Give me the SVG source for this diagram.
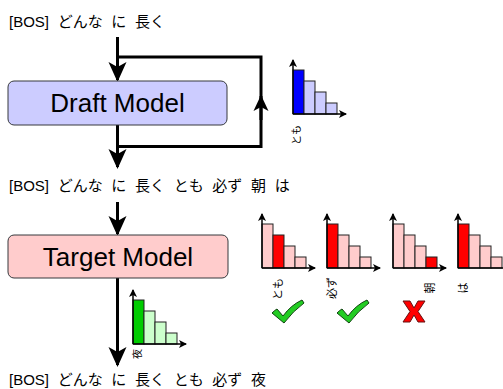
<svg xmlns="http://www.w3.org/2000/svg" width="503" height="389" viewBox="0 0 503 389">
<defs>
<style>
text{font-family:"Liberation Sans","Noto Sans CJK JP",sans-serif;fill:#000}
.seq{font-size:15px;word-spacing:4.5px}
.model{font-size:26px;text-anchor:middle}
.lbl{text-anchor:middle;dominant-baseline:central}
.flow{fill:none;stroke:#000;stroke-width:3}
.axis{fill:none;stroke:#000;stroke-width:1.5;marker-end:url(#ax)}
.bar{stroke:#222;stroke-width:1}
</style>
<marker id="big" viewBox="0 0 20 20" refX="18" refY="10" markerWidth="20" markerHeight="20" markerUnits="userSpaceOnUse" orient="auto">
<path d="M0,1 L20,10 L0,19 L5,10 Z" fill="#000"/>
</marker>
<marker id="mid" viewBox="0 0 16 16" refX="15" refY="8" markerWidth="16" markerHeight="16" markerUnits="userSpaceOnUse" orient="auto">
<path d="M0,0.5 L16,8 L0,15.5 L4,8 Z" fill="#000"/>
</marker>
<marker id="ax" viewBox="0 0 8 8" refX="7" refY="4" markerWidth="8" markerHeight="8" markerUnits="userSpaceOnUse" orient="auto">
<path d="M0,0 L8,4 L0,8 L2,4 Z" fill="#000"/>
</marker>
<g id="axes">
<path class="axis" d="M0,0 V-54"/>
<path class="axis" d="M0,0 H53"/>
</g>
<path id="tick" d="M0,13 Q3,10 5,9 L11,16 Q19,5 30,0 L32,3 Q21,11 12,23 Z" fill="#22cc22" stroke="#114411" stroke-width="1"/>
</defs>

<g id="connectors">
<path class="flow" d="M117.5,37 V80" marker-end="url(#big)"/>
<path class="flow" d="M117.5,57 H261 V146.5 H117.5"/>
<path class="flow" d="M261,120 V96" marker-end="url(#mid)"/>
<path class="flow" d="M117.5,125 V167" marker-end="url(#big)"/>
<path class="flow" d="M117.5,202 V234" marker-end="url(#big)"/>
<path class="flow" d="M117.5,278 V365" marker-end="url(#big)"/>
</g>

<g id="seq1"><text class="seq" x="9" y="27">[BOS] どんな に 長く</text></g>

<g id="draft-model">
<rect x="8" y="81" width="219" height="44" rx="6" fill="#ccccff" stroke="#36393d" stroke-width="1"/>
<text class="model" x="117.5" y="112">Draft Model</text>
</g>

<g id="draft-hist" transform="translate(293,114)">
<rect class="bar" x="0" y="-44" width="11" height="44" fill="#0000ff"/>
<rect class="bar" x="11" y="-33" width="11" height="33" fill="#ccccff"/>
<rect class="bar" x="22" y="-22" width="11" height="22" fill="#ccccff"/>
<rect class="bar" x="33" y="-11" width="11" height="11" fill="#ccccff"/>
<use href="#axes"/>
<text class="lbl" font-size="10" transform="translate(3,21) rotate(-90)">とも</text>
</g>

<g id="seq2"><text class="seq" x="9" y="191">[BOS] どんな に 長く とも 必ず 朝 は</text></g>

<g id="target-model">
<rect x="8" y="235" width="220" height="43" rx="6" fill="#ffcccc" stroke="#36393d" stroke-width="1"/>
<text class="model" x="118" y="266">Target Model</text>
</g>

<g id="target-hist1" transform="translate(262,268)">
<rect class="bar" x="0" y="-44" width="11" height="44" fill="#ffcccc"/>
<rect class="bar" x="11" y="-33" width="11" height="33" fill="#ff0000"/>
<rect class="bar" x="22" y="-22" width="11" height="22" fill="#ffcccc"/>
<rect class="bar" x="33" y="-11" width="11" height="11" fill="#ffcccc"/>
<use href="#axes"/>
<text class="lbl" font-size="11" transform="translate(16,21) rotate(-90)">とも</text>
</g>
<g id="target-hist2" transform="translate(327,268)">
<rect class="bar" x="0" y="-44" width="11" height="44" fill="#ff0000"/>
<rect class="bar" x="11" y="-33" width="11" height="33" fill="#ffcccc"/>
<rect class="bar" x="22" y="-22" width="11" height="22" fill="#ffcccc"/>
<rect class="bar" x="33" y="-11" width="11" height="11" fill="#ffcccc"/>
<use href="#axes"/>
<text class="lbl" font-size="11" transform="translate(5,20) rotate(-90)">必ず</text>
</g>
<g id="target-hist3" transform="translate(393,268)">
<rect class="bar" x="0" y="-44" width="11" height="44" fill="#ffcccc"/>
<rect class="bar" x="11" y="-33" width="11" height="33" fill="#ffcccc"/>
<rect class="bar" x="22" y="-22" width="11" height="22" fill="#ffcccc"/>
<rect class="bar" x="33" y="-11" width="11" height="11" fill="#ff0000"/>
<use href="#axes"/>
<text class="lbl" font-size="11" transform="translate(37,20) rotate(-90)">朝</text>
</g>
<g id="target-hist4" transform="translate(458,268)">
<rect class="bar" x="0" y="-44" width="11" height="44" fill="#ff0000"/>
<rect class="bar" x="11" y="-33" width="11" height="33" fill="#ffcccc"/>
<rect class="bar" x="22" y="-22" width="11" height="22" fill="#ffcccc"/>
<rect class="bar" x="33" y="-11" width="11" height="11" fill="#ffcccc"/>
<use href="#axes"/>
<text class="lbl" font-size="11" transform="translate(5,20) rotate(-90)">は</text>
</g>

<g id="check1" transform="translate(272,300)"><use href="#tick"/></g>
<g id="check2" transform="translate(337,300)"><use href="#tick"/></g>
<g id="cross" transform="translate(403,301)">
<path d="M0,0 L7,0 L11,7 L15,0 L22,0 L15,10.5 L22,21 L15,21 L11,14 L7,21 L0,21 L7,10.5 Z" fill="#ff0000" stroke="#661111" stroke-width="1"/>
</g>

<g id="green-hist" transform="translate(133,344)">
<rect class="bar" x="0" y="-44" width="11" height="44" fill="#00cc00"/>
<rect class="bar" x="11" y="-33" width="11" height="33" fill="#ccffcc"/>
<rect class="bar" x="22" y="-22" width="11" height="22" fill="#ccffcc"/>
<rect class="bar" x="33" y="-11" width="11" height="11" fill="#ccffcc"/>
<use href="#axes"/>
<text class="lbl" font-size="10" transform="translate(4,10) rotate(-90)">夜</text>
</g>

<g id="seq3"><text class="seq" x="9" y="385">[BOS] どんな に 長く とも 必ず 夜</text></g>
</svg>
